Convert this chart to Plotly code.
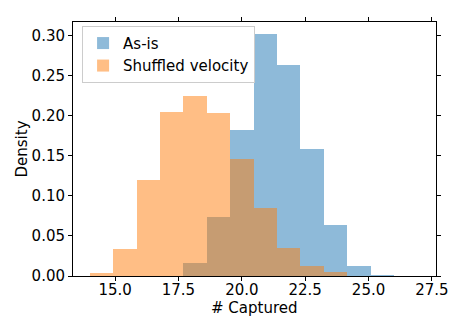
import plotly.graph_objects as go

# shared histogram bin edges (13 bins between 14 and 26)
bin_edges = [14.0, 14.923, 15.846, 16.769, 17.692, 18.615, 19.538,
             20.462, 21.385, 22.308, 23.231, 24.154, 25.077, 26.0]

# density per bin
as_is = [0.0, 0.0, 0.0, 0.0, 0.0167, 0.0739, 0.1824, 0.3016,
         0.2629, 0.158, 0.0633, 0.0131, 0.0012]
shuffled = [0.0037, 0.0339, 0.1196, 0.2045, 0.2245, 0.2037, 0.1457,
            0.0845, 0.0355, 0.0122, 0.0045, 0.0, 0.0]

centers = [(a + b) / 2 for a, b in zip(bin_edges[:-1], bin_edges[1:])]
widths = [b - a for a, b in zip(bin_edges[:-1], bin_edges[1:])]

font = dict(family="DejaVu Sans", size=15, color="black")

fig = go.Figure()
fig.add_trace(go.Bar(
    x=centers, y=as_is, width=widths,
    marker=dict(color="#1f77b4", line_width=0),
    opacity=0.5, name="As-is",
))
fig.add_trace(go.Bar(
    x=centers, y=shuffled, width=widths,
    marker=dict(color="#ff7f0e", line_width=0),
    opacity=0.5, name="Shuffled velocity",
))

axis_style = dict(
    showline=True, linecolor="black", linewidth=1, mirror="ticks",
    ticks="outside", ticklen=4, tickwidth=1, tickcolor="black",
    showgrid=False, zeroline=False, tickfont=font,
)

# page body has an 8px margin, so the figure is a bit smaller than the window
fig.update_layout(
    width=455, height=323,
    margin=dict(l=65, r=27, t=9, b=55),
    barmode="overlay", bargap=0,
    plot_bgcolor="white", paper_bgcolor="white",
    font=font,
    xaxis=dict(range=[13.34, 27.66], tickvals=[15, 17.5, 20, 22.5, 25, 27.5],
               ticktext=["15.0", "17.5", "20.0", "22.5", "25.0", "27.5"],
               ticklabelstandoff=-4, **axis_style),
    yaxis=dict(range=[0, 0.317], tickvals=[0, 0.05, 0.1, 0.15, 0.2, 0.25, 0.3],
               ticktext=["0.00", "0.05", "0.10", "0.15", "0.20", "0.25", "0.30"],
               title=dict(text="Density", font=font, standoff=0), **axis_style),
    legend=dict(x=0.025, y=0.985, xanchor="left", yanchor="top",
                bgcolor="rgba(255,255,255,0.8)", bordercolor="#cccccc",
                borderwidth=1, font=font, itemwidth=30),
    showlegend=True,
)
fig.add_annotation(text="# Captured", xref="paper", yref="paper",
                   x=0.5, y=-0.125, yanchor="middle", showarrow=False, font=font)

fig.write_html("out.html")
